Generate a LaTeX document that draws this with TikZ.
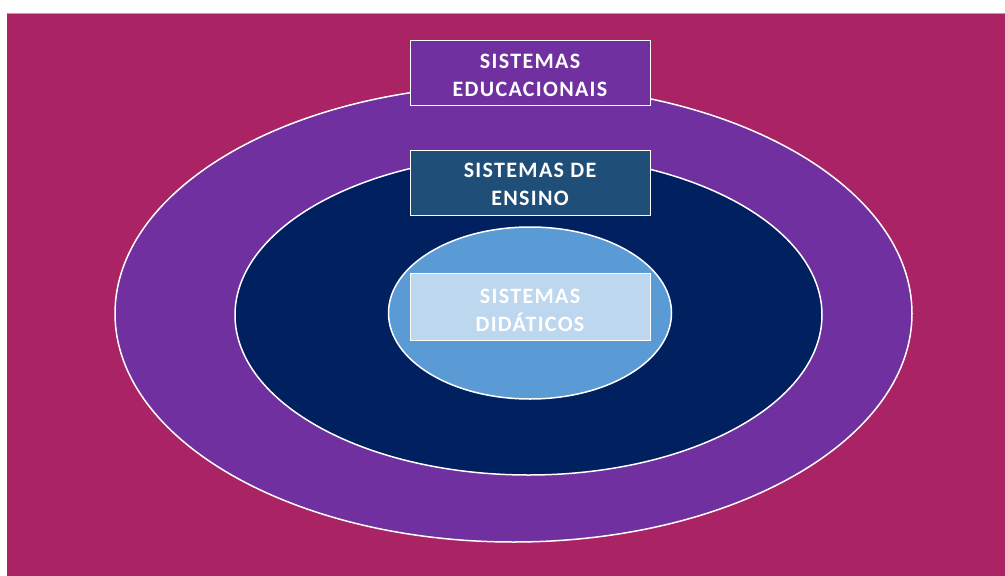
\documentclass[tikz,border=0pt]{standalone}
\usepackage{fontspec}
\setmainfont{Carlito}[LetterSpace=6]
\usetikzlibrary{shapes.geometric}
\definecolor{bgmag}{RGB}{170,35,100}
\definecolor{purp}{RGB}{112,48,160}
\definecolor{navy}{RGB}{0,32,96}
\definecolor{steel}{RGB}{31,78,121}
\definecolor{lblue}{RGB}{91,155,213}
\definecolor{pblue}{RGB}{189,215,238}
\tikzset{
  ring/.style={ellipse, draw=white, line width=1.5pt, inner sep=0pt},
  box/.style={draw=white, line width=0.8pt, minimum width=240pt, minimum height=65pt, inner sep=0pt},
  lab/.style={inner sep=0pt, text=white, align=center, font=\fontsize{22}{28}\selectfont\bfseries}
}
\begin{document}
\begin{tikzpicture}[x=1pt,y=-1pt]
\useasboundingbox (0,0) rectangle (1005,576);
\fill[white] (0,0) rectangle (1005,576);
\fill[bgmag] (7,13) rectangle (1005,576);
\draw[color={rgb,255:red,150;green,170;blue,200}, line width=1pt] (7,13) -- (1005,13);
\node[ring, fill=purp, minimum width=797pt, minimum height=457pt] (outer) at (513.5,313.5) {};
\node[ring, fill=navy, minimum width=587pt, minimum height=320pt] (middle) at (528.5,315) {};
\node[ring, fill=lblue, minimum width=283pt, minimum height=172pt] (inner) at (530,313) {};
\node[box, fill=purp] (edu) at (530,72.5) {};
\node[box, fill=steel] (ens) at (530,182.5) {};
\node[box, fill=pblue, minimum height=67pt] (did) at (530,306.5) {};
\node[lab] (edut) at ([yshift=-3pt]edu.center) {SISTEMAS\\EDUCACIONAIS};
\node[lab] (enst) at ([yshift=-2pt]ens.center) {SISTEMAS DE\\ENSINO};
\node[lab] (didt) at ([yshift=-4pt]did.center) {SISTEMAS\\DIDÁTICOS};
\end{tikzpicture}
\end{document}
